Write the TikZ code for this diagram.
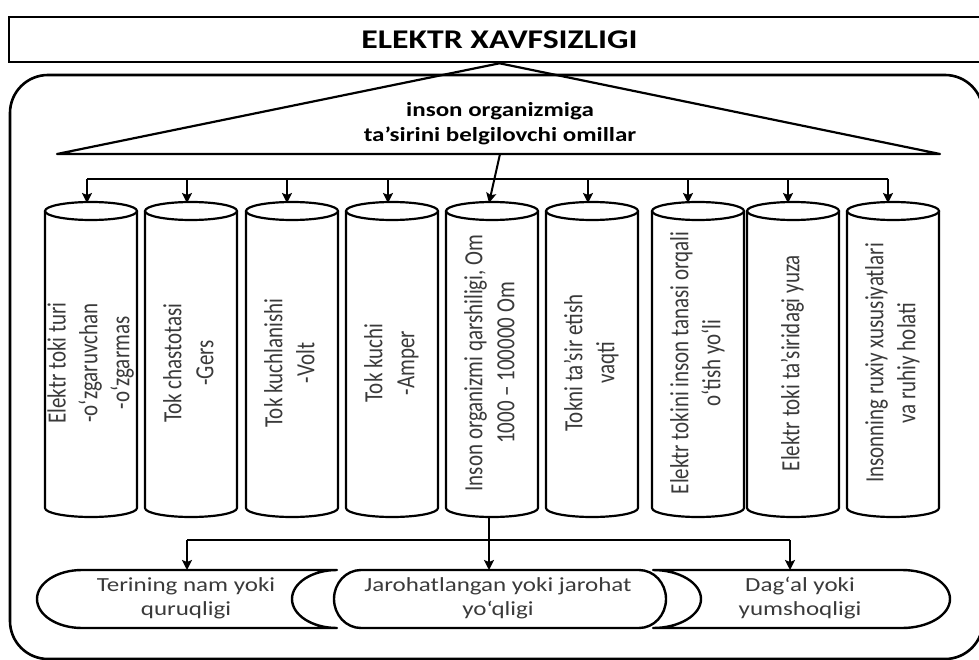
\documentclass[tikz,border=0pt]{standalone}
\usepackage{fontspec}
\setmainfont{Carlito}
\usepackage{graphicx}
\usetikzlibrary{arrows.meta}
\definecolor{ink}{HTML}{000000}
\definecolor{txt}{HTML}{3A3A3A}
% text is set slightly widened
\newcommand\wide[1]{\scalebox{1.25}[1]{#1}}
\newcommand\lines[1]{\begin{tabular}{@{}c@{}}#1\end{tabular}}

\begin{document}
\begin{tikzpicture}[x=1pt,y=-1pt,
  frame/.style={line width=2.6pt, draw=ink},
  cylline/.style={line width=2.2pt, draw=ink},
  boxline/.style={line width=2.4pt, draw=ink},
  bus/.style={line width=2pt, draw=ink},
  link/.style={line width=2pt, draw=ink, -{Stealth[length=10pt,width=10pt,inset=2pt]}},
  lbl/.style={inner sep=0pt, text=txt, font=\fontsize{21}{25.5}\selectfont},
  boldlbl/.style={inner sep=0pt, text=ink, font=\fontsize{20}{25}\selectfont\bfseries},
  titlebox/.style={frame, inner sep=0pt, minimum width=981pt, minimum height=45pt,
    font=\fontsize{27}{30}\selectfont\bfseries}]
\useasboundingbox (0,0) rectangle (979,660);

% outer container
\draw[frame, rounded corners=38pt] (10,75) rectangle (983,659);

% heading
\node[titlebox] (title) at (499.5,39.5) {\wide{ELEKTR XAVFSIZLIGI}};

% triangle of factors
\draw[frame, line width=2.2pt, line join=round] (title.south) -- (940,154) -- (57,154) -- cycle;
\node[boldlbl] (tri) at (500,124) {\wide{\lines{inson organizmiga\\ta’sirini belgilovchi omillar}}};
\coordinate (tribase) at (500,154);

% cylinders
\foreach \i/\cx/\ax/\txt in {
  1/91/87/{Elektr toki turi\\-o‘zgaruvchan\\-o‘zgarmas},
  2/191/187/{Tok chastotasi\\-Gers},
  3/292/287/{Tok kuchlanishi\\-Volt},
  4/392/388/{Tok kuchi\\-Amper},
  5/492/489/{Inson organizmi qarshiligi, Om\\1000 – 100000 Om},
  6/592/588/{Tokni ta’sir etish\\vaqti},
  7/698/688/{Elektr tokini inson tanasi orqali\\o‘tish yo‘li},
  8/793/788/{Elektr toki ta’siridagi yuza},
  9/893/888/{Insonning ruxiy xususiyatlari\\va ruhiy holati}}{
  \pgfmathsetmacro\L{\cx-46}
  \pgfmathsetmacro\R{\cx+46}
  \pgfmathsetmacro\Lc{\cx-25.4}
  \pgfmathsetmacro\Rc{\cx+25.4}
  \draw[cylline] (\cx,211) ellipse [x radius=46, y radius=9];
  \draw[cylline, line join=round] (\L,211) -- (\L,508)
     .. controls (\L,513) and (\Lc,517) .. (\cx,517)
     .. controls (\Rc,517) and (\R,513) .. (\R,508) -- (\R,211);
  \node[lbl] (cyl\i) at (\cx,363) {\wide{\rotatebox{90}{\lines{\txt}}}};
  \coordinate (top\i) at (\ax,203);
  \coordinate (bot\i) at (\ax,517);
  \coordinate (b\i) at (\ax,179);
}

% upper distribution bus
\draw[bus] (b1) -- (b9);
\foreach \i in {1,2,3,4,6,7,8,9}{
  \draw[link] (b\i) -- (top\i);
}
\draw[link] (tribase) -- (top5);

% lower distribution bus
\coordinate (c1) at (187,540);
\coordinate (c3) at (790,540);
\coordinate (in1) at (187,570);
\coordinate (in2) at (489,570);
\coordinate (in3) at (790,570);
\draw[bus] (c1) -- (c3);
\draw[link] (bot5) -- (in2);
\draw[link] (c1) -- (in1);
\draw[link] (c3) -- (in3);

% lower boxes
\draw[boxline, line join=round] (82,570) -- (337,570)
  .. controls (312,570) and (292,583) .. (292,599)
  .. controls (292,615) and (312,628) .. (337,628) -- (82,628)
  .. controls (57,628) and (37,615) .. (37,599)
  .. controls (37,583) and (57,570) .. (82,570) -- cycle;
\draw[boxline, line join=round] (361,570) -- (639,570)
  .. controls (654,570) and (666,583) .. (666,599)
  .. controls (666,615) and (654,628) .. (639,628) -- (361,628)
  .. controls (346,628) and (334,615) .. (334,599)
  .. controls (334,583) and (346,570) .. (361,570) -- cycle;
\draw[boxline, line join=round] (653,570) -- (902,570)
  .. controls (928.5,570) and (950,583) .. (950,599)
  .. controls (950,615) and (928.5,628) .. (902,628) -- (653,628)
  .. controls (679.5,628) and (701,615) .. (701,599)
  .. controls (701,583) and (679.5,570) .. (653,570) -- cycle;

\node[lbl, font=\fontsize{20}{24}\selectfont] (box1) at (186,599) {\wide{\lines{Terining nam yoki\\quruqligi}}};
\node[lbl, font=\fontsize{20}{24}\selectfont] (box2) at (498,599) {\wide{\lines{Jarohatlangan yoki jarohat\\yo‘qligi}}};
\node[lbl, font=\fontsize{20}{24}\selectfont] (box3) at (800,599) {\wide{\lines{Dag‘al yoki\\yumshoqligi}}};
\end{tikzpicture}
\end{document}
